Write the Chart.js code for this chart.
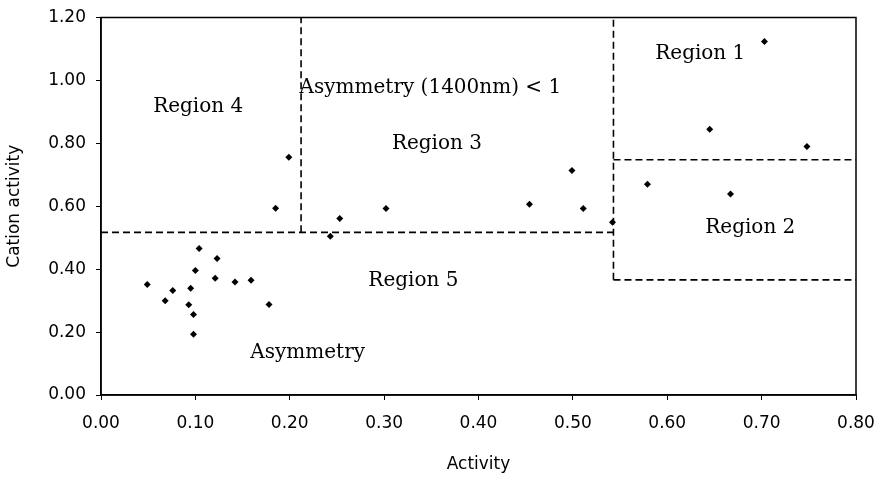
<!DOCTYPE html>
<html>
<head>
<meta charset="utf-8">
<script src="https://cdn.jsdelivr.net/npm/chart.js@4"></script>
<style>
    html, body { margin: 0; padding: 0; background: #fff; }
    #wrap { width: 882px; height: 479px; }
</style>
</head>
<body>
<div id="wrap"><canvas id="chart"></canvas></div>
<script>
// Measured points (Activity, Cation activity)
const activity = [0.049, 0.068, 0.076, 0.093, 0.095, 0.098, 0.098, 0.100, 0.104, 0.121, 0.123, 0.142, 0.159, 0.178,
    0.185, 0.199, 0.243, 0.253, 0.302, 0.454, 0.499, 0.511, 0.542, 0.579, 0.645, 0.667, 0.703, 0.748];
const cationActivity = [0.351, 0.300, 0.332, 0.287, 0.339, 0.256, 0.193, 0.396, 0.466, 0.371, 0.434, 0.359, 0.365, 0.288,
    0.594, 0.756, 0.505, 0.561, 0.593, 0.606, 0.714, 0.593, 0.549, 0.670, 0.845, 0.639, 1.124, 0.790];

// Region boundaries (dashed lines), each as [x1, y1, x2, y2]
const boundaries = [
    [0.212, 0.517, 0.212, 1.20],
    [0.00, 0.517, 0.543, 0.517],
    [0.543, 0.366, 0.543, 1.20],
    [0.543, 0.748, 0.80, 0.748],
    [0.543, 0.366, 0.80, 0.366]
];

// Region labels
const regionLabels = ['Region 4', 'Asymmetry (1400nm) < 1', 'Region 3', 'Region 5', 'Asymmetry', 'Region 1', 'Region 2'];
const regionLabelX = [0.103, 0.349, 0.356, 0.331, 0.219, 0.635, 0.688];
const regionLabelY = [0.917, 0.975, 0.797, 0.362, 0.133, 1.086, 0.530];

const xTicks = [0, 0.1, 0.2, 0.3, 0.4, 0.5, 0.6, 0.7, 0.8];
const yTicks = [0, 0.2, 0.4, 0.6, 0.8, 1.0, 1.2];

const points = activity.map((x, i) => ({ x: x, y: cationActivity[i] }));

const lineSets = boundaries.map(b => ({
    type: 'line',
    data: [{ x: b[0], y: b[1] }, { x: b[2], y: b[3] }],
    borderColor: '#000',
    borderWidth: 1.6,
    borderDash: [7, 4],
    pointRadius: 0,
    fill: false
}));

// Frame around the plot area
const frame = {
    id: 'frame',
    afterDraw(chart) {
        const a = chart.chartArea;
        const c = chart.ctx;
        c.save();
        c.strokeStyle = '#000';
        c.lineWidth = 1.5;
        c.strokeRect(a.left, a.top, a.right - a.left, a.bottom - a.top);
        c.restore();
    }
};

// Text placed in data coordinates
const labelsPlugin = {
    id: 'regionText',
    afterDatasetsDraw(chart) {
        const c = chart.ctx;
        const xs = chart.scales.x, ys = chart.scales.y;
        c.save();
        c.fillStyle = '#000';
        c.font = '20px "DejaVu Serif"';
        c.textAlign = 'center';
        c.textBaseline = 'middle';
        regionLabels.forEach((t, i) => {
            c.fillText(t, xs.getPixelForValue(regionLabelX[i]), ys.getPixelForValue(regionLabelY[i]));
        });
        c.restore();
    }
};

const sans = '"DejaVu Sans", sans-serif';
const tickFont = { family: sans, size: 17 };

new Chart(document.getElementById('chart'), {
    type: 'scatter',
    data: {
        datasets: [{
            data: points,
            pointStyle: 'rectRot',
            pointRadius: 3.5,
            backgroundColor: '#000',
            borderColor: '#000',
            borderWidth: 0
        }].concat(lineSets)
    },
    options: {
        responsive: true,
        maintainAspectRatio: false,
        animation: false,
        layout: { padding: { left: 0, right: 26, top: 17.5, bottom: 0 } },
        plugins: { legend: { display: false }, tooltip: { enabled: false } },
        scales: {
            x: {
                type: 'linear',
                min: 0, max: 0.8,
                afterBuildTicks: s => { s.ticks = xTicks.map(v => ({ value: v })); },
                afterFit: s => { s.height = 84; s.paddingLeft = 0; s.paddingRight = 0; },
                grid: { drawOnChartArea: false, drawTicks: true, tickLength: 5, color: '#000', lineWidth: 1 },
                border: { display: true, color: '#000', width: 1.5 },
                ticks: { color: '#000', font: tickFont, padding: 13, maxRotation: 0,
                    callback: v => v.toFixed(2) },
                title: { display: true, text: 'Activity', color: '#000', font: { family: sans, size: 17 }, padding: { top: 16 } }
            },
            y: {
                type: 'linear',
                min: 0, max: 1.2,
                afterBuildTicks: s => { s.ticks = yTicks.map(v => ({ value: v })); },
                afterFit: s => { s.width = 101; s.paddingTop = 0; s.paddingBottom = 0; },
                grid: { drawOnChartArea: false, drawTicks: true, tickLength: 5, color: '#000', lineWidth: 1 },
                border: { display: true, color: '#000', width: 1.5 },
                ticks: { color: '#000', font: tickFont, padding: 10,
                    callback: v => v.toFixed(2) },
                title: { display: true, text: 'Cation activity', color: '#000', font: { family: sans, size: 17 }, padding: { bottom: 2 } }
            }
        }
    },
    plugins: [frame, labelsPlugin]
});
</script>
</body>
</html>
